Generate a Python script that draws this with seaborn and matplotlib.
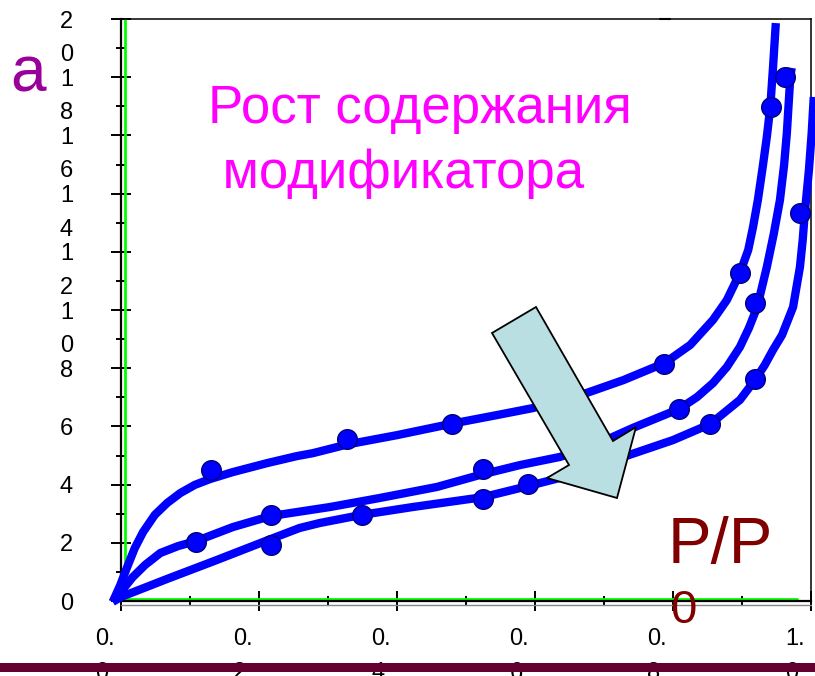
import numpy as np
import matplotlib
matplotlib.use("Agg")
import matplotlib.pyplot as plt
import seaborn as sns
from matplotlib.patches import Polygon, Rectangle
from matplotlib.lines import Line2D
from matplotlib.transforms import ScaledTranslation

# =========================
# Data
# =========================
# upper curve (lowest modifier content)
x_up = [-0.012, -0.001, 0.009, 0.020, 0.032, 0.049, 0.067, 0.086, 0.107, 0.129, 0.162,
        0.212, 0.255, 0.278, 0.328, 0.400, 0.481, 0.545, 0.597, 0.675, 0.728, 0.788,
        0.825, 0.858, 0.878, 0.897, 0.909, 0.916, 0.923, 0.930, 0.936, 0.941, 0.945, 0.949]
y_up = [-0.03, 0.55, 1.17, 1.82, 2.37, 2.96, 3.37, 3.71, 3.99, 4.19, 4.43,
        4.74, 4.98, 5.08, 5.38, 5.70, 6.10, 6.39, 6.63, 7.15, 7.59, 8.18,
        8.80, 9.66, 10.34, 11.27, 12.06, 12.85, 13.78, 14.91, 15.95, 16.98, 18.35, 19.86]
up_px = [0.130, 0.328, 0.480, 0.787, 0.897, 0.942]
up_py = [4.50, 5.57, 6.08, 8.14, 11.27, 16.98]

# middle curve
x_mid = [-0.012, 0.017, 0.035, 0.057, 0.083, 0.109, 0.162, 0.217, 0.303, 0.375, 0.458,
         0.520, 0.578, 0.636, 0.680, 0.742, 0.809, 0.835, 0.858, 0.878, 0.897, 0.910,
         0.922, 0.929, 0.936, 0.946, 0.955, 0.961, 0.965, 0.970, 0.972]
y_mid = [-0.03, 0.82, 1.24, 1.65, 1.89, 2.06, 2.54, 2.92, 3.23, 3.54, 3.92,
         4.33, 4.67, 4.95, 5.29, 5.95, 6.60, 7.01, 7.49, 8.04, 8.73, 9.38,
         10.10, 10.79, 11.48, 12.61, 13.78, 14.98, 16.08, 18.01, 18.32]
mid_px = [0.109, 0.217, 0.525, 0.809, 0.919, 0.962]
mid_py = [2.03, 2.96, 4.54, 6.60, 10.24, 18.00]

# lower curve (highest modifier content)
x_low = [-0.012, 0.0, 0.067, 0.139, 0.217, 0.259, 0.288, 0.349, 0.423, 0.525, 0.590,
         0.636, 0.728, 0.800, 0.854, 0.897, 0.919, 0.933, 0.945, 0.958, 0.974, 0.984,
         0.988, 0.991, 0.997, 1.001, 1.004]
y_low = [-0.03, 0.14, 0.76, 1.41, 2.13, 2.51, 2.68, 2.96, 3.23, 3.57, 3.95,
         4.23, 4.95, 5.53, 6.08, 6.91, 7.60, 8.11, 8.63, 9.14, 10.10, 11.48,
         12.41, 13.33, 14.81, 16.08, 17.32]
low_px = [0.217, 0.349, 0.525, 0.590, 0.854, 0.919, 0.984]
low_py = [1.92, 2.96, 3.51, 4.02, 6.08, 7.63, 13.33]

x_ticks = [0.0, 0.2, 0.4, 0.6, 0.8, 1.0]
x_labels = ["0.\n0", "0.\n2", "0.\n4", "0.\n6", "0.\n8", "1.\n0"]
y_ticks = [0, 2, 4, 6, 8, 10, 12, 14, 16, 18, 20]
y_labels = ["0", "2", "4", "6", "8", "1\n0", "1\n2", "1\n4", "1\n6", "1\n8", "2\n0"]

annot_line1 = "Рост содержания"
annot_line2 = " модификатора"

# =========================
# Style
# =========================
sns.set_style("ticks")
plt.rcParams['font.family'] = ['Liberation Sans', 'DejaVu Sans']

W, H = 815, 676
fig = plt.figure(figsize=(W / 100, H / 100), dpi=100)
ax = fig.add_axes([121 / W, 75 / H, 690 / W, 582 / H])


def px(x, y):
    # figure pixels (from top-left) -> figure fraction
    return (x / W, 1 - y / H)


def fig_line(x0, y0, x1, y1, **kw):
    a, b = px(x0, y0), px(x1, y1)
    ax.add_line(Line2D([a[0], b[0]], [a[1], b[1]], transform=fig.transFigure,
                       clip_on=False, **kw))


# =========================
# Curves and points
# =========================
for xs, ys in [(x_up, y_up), (x_mid, y_mid), (x_low, y_low)]:
    sns.lineplot(x=xs, y=ys, ax=ax, sort=False, estimator=None,
                 color="#0000FF", linewidth=6)
for ln in ax.lines:
    ln.set_clip_on(False)
    ln.set_zorder(3)
    ln.set_solid_capstyle("butt")
    ln.set_solid_joinstyle("round")

for xs, ys in [(up_px, up_py), (mid_px, mid_py), (low_px, low_py)]:
    sns.scatterplot(x=xs, y=ys, ax=ax, s=200, color="#0000FF",
                    edgecolor="#00007F", linewidth=1, zorder=4, clip_on=False)

ax.set_xlim(0, 1.0)
ax.set_ylim(0, 20)

# =========================
# Axes / ticks
# =========================
for side in ["left", "bottom"]:
    ax.spines[side].set_linewidth(1.6)
for side in ["top", "right"]:
    ax.spines[side].set_linewidth(1.1)
for s in ax.spines.values():
    s.set_color("black")

ax.set_xticks(x_ticks)
ax.set_xticks(np.arange(0.1, 1.0, 0.2), minor=True)
ax.set_yticks(y_ticks)
ax.set_yticks(np.arange(1, 20, 2), minor=True)

ax.tick_params(which="major", direction="inout", length=15, width=1.4, colors="black")
ax.tick_params(which="minor", direction="inout", length=7, width=1.4, colors="black")
ax.tick_params(axis="y", which="major", pad=27, labelsize=17)
ax.tick_params(axis="x", which="major", pad=12, labelsize=17)

ax.set_xticklabels(x_labels, ha="right", va="top", multialignment="left", linespacing=1.68)
ax.set_yticklabels(y_labels, ha="right", va="top", multialignment="left", linespacing=1.68)

for lab in ax.get_xticklabels():
    lab.set_transform(lab.get_transform() + ScaledTranslation(-6 / 100, 0, fig.dpi_scale_trans))
for lab in ax.get_yticklabels():
    lab.set_transform(lab.get_transform() + ScaledTranslation(0, 8.5 / 100, fig.dpi_scale_trans))

# green axis lines + grey shadow under the x axis
fig_line(124.5, 20, 124.5, 600, color="#00FF00", lw=2, zorder=2.5)
fig_line(121, 599, 797, 599, color="#00FF00", lw=2, zorder=2.5)
fig_line(121, 605, 811, 605, color="#888888", lw=1, zorder=2.5)
# small stray strokes of the original slide
fig_line(660, 18.5, 670, 18.5, color="black", lw=1.5, zorder=2.5)
fig_line(803, 224, 803, 236, color="black", lw=1.2, zorder=2.5)

# =========================
# Arrow
# =========================
arrow_pts = [px(492, 333), px(536, 307), px(613, 441), px(636, 427),
             px(617, 498), px(547, 478), px(569, 465)]
ax.add_patch(Polygon(arrow_pts, closed=True, transform=fig.transFigure,
                     facecolor="#BADFE3", edgecolor="black", lw=1.3,
                     zorder=6, clip_on=False))

# =========================
# Texts
# =========================
fig.text(*px(208, 123), annot_line1, color="#FF00FF", fontsize=38, ha="left", va="baseline")
fig.text(*px(208, 188), annot_line2, color="#FF00FF", fontsize=38, ha="left", va="baseline")
fig.text(*px(10, 91), "a", color="#990099", fontsize=46, ha="left", va="baseline")
fig.text(*px(668, 563), "P/P", color="#800000", fontsize=47, ha="left", va="baseline")
fig.text(*px(670, 623), "0", color="#800000", fontsize=34, ha="left", va="baseline", zorder=5)

# bottom bar
fig.add_artist(Rectangle(px(0, 672), 1, 9 / H, transform=fig.transFigure,
                         facecolor="#660033", edgecolor="none", zorder=5))

fig.savefig("out.png", dpi=100)
